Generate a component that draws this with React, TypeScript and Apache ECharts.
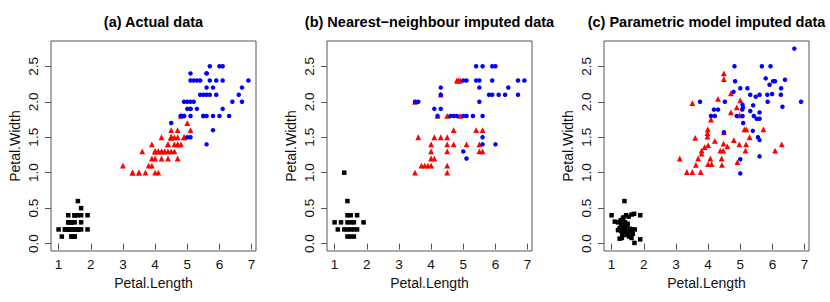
import React, { useEffect, useRef } from "react";
import * as echarts from "echarts";

// ---------- data: [Petal.Length, Petal.Width] ----------
const aSetosa: number[][] = [
  [1.4, 0.2], [1.4, 0.2], [1.3, 0.2], [1.5, 0.2], [1.4, 0.2], [1.7, 0.4], [1.4, 0.3], [1.5, 0.2], [1.4, 0.2], [1.5, 0.1],
  [1.5, 0.2], [1.6, 0.2], [1.4, 0.1], [1.1, 0.1], [1.2, 0.2], [1.5, 0.4], [1.3, 0.4], [1.4, 0.3], [1.7, 0.3], [1.5, 0.3],
  [1.7, 0.2], [1.5, 0.4], [1.0, 0.2], [1.7, 0.5], [1.9, 0.2], [1.6, 0.2], [1.6, 0.4], [1.5, 0.2], [1.4, 0.2], [1.6, 0.2],
  [1.6, 0.2], [1.5, 0.4], [1.5, 0.1], [1.4, 0.2], [1.5, 0.2], [1.2, 0.2], [1.3, 0.2], [1.4, 0.1], [1.3, 0.2], [1.5, 0.2],
  [1.3, 0.3], [1.3, 0.3], [1.3, 0.2], [1.6, 0.6], [1.9, 0.4], [1.4, 0.3], [1.6, 0.2], [1.4, 0.2], [1.5, 0.2], [1.4, 0.2],
];
const aVersicolor: number[][] = [
  [4.7, 1.4], [4.5, 1.5], [4.9, 1.5], [4.0, 1.3], [4.6, 1.5], [4.5, 1.3], [4.7, 1.6], [3.3, 1.0], [4.6, 1.3], [3.9, 1.4],
  [3.5, 1.0], [4.2, 1.5], [4.0, 1.0], [4.7, 1.4], [3.6, 1.3], [4.4, 1.4], [4.5, 1.5], [4.1, 1.0], [4.5, 1.5], [3.9, 1.1],
  [4.8, 1.8], [4.0, 1.3], [4.9, 1.5], [4.7, 1.2], [4.3, 1.3], [4.4, 1.4], [4.8, 1.4], [5.0, 1.7], [4.5, 1.5], [3.5, 1.0],
  [3.8, 1.1], [3.7, 1.0], [3.9, 1.2], [5.1, 1.6], [4.5, 1.5], [4.5, 1.6], [4.7, 1.5], [4.4, 1.3], [4.1, 1.3], [4.0, 1.3],
  [4.4, 1.2], [4.6, 1.4], [4.0, 1.2], [3.3, 1.0], [4.2, 1.3], [4.2, 1.2], [4.2, 1.3], [4.3, 1.3], [3.0, 1.1], [4.1, 1.3],
];
const aVirginica: number[][] = [
  [6.0, 2.5], [5.1, 1.9], [5.9, 2.1], [5.6, 1.8], [5.8, 2.2], [6.6, 2.1], [4.5, 1.7], [6.3, 1.8], [5.8, 1.8], [6.1, 2.5],
  [5.1, 2.0], [5.3, 1.9], [5.5, 2.1], [5.0, 2.0], [5.1, 2.4], [5.3, 2.3], [5.5, 1.8], [6.7, 2.2], [6.9, 2.3], [5.0, 1.5],
  [5.7, 2.3], [4.9, 2.0], [6.7, 2.0], [4.9, 1.8], [5.7, 2.1], [6.0, 1.8], [4.8, 1.8], [4.9, 1.8], [5.6, 2.1], [5.8, 1.6],
  [6.1, 1.9], [6.4, 2.0], [5.6, 2.2], [5.1, 1.5], [5.6, 1.4], [6.1, 2.3], [5.6, 2.4], [5.5, 1.8], [4.8, 1.8], [5.4, 2.1],
  [5.6, 2.4], [5.1, 2.3], [5.1, 1.9], [5.9, 2.3], [5.7, 2.5], [5.2, 2.3], [5.0, 1.9], [5.2, 2.0], [5.4, 2.3], [5.1, 1.8],
];

const bSetosa: number[][] = [
  [1.3, 1.0], [1.4, 0.6], [1.4, 0.4], [1.5, 0.4], [1.7, 0.4], [1.0, 0.3], [1.2, 0.3], [1.4, 0.3], [1.5, 0.3], [1.6, 0.3],
  [1.9, 0.3], [1.1, 0.2], [1.3, 0.2], [1.4, 0.2], [1.5, 0.2], [1.6, 0.2], [1.7, 0.2], [1.4, 0.1], [1.5, 0.1], [1.6, 0.1],
];
const bVersicolor: number[][] = [
  [3.5, 2.0], [4.3, 2.1], [4.8, 2.3], [4.85, 2.3], [4.9, 2.3], [4.2, 1.8], [4.5, 1.8], [4.9, 1.8], [4.7, 1.6], [5.4, 1.6],
  [5.6, 1.6], [3.6, 1.5], [4.1, 1.5], [4.3, 1.5], [4.5, 1.5], [4.0, 1.4], [4.5, 1.4], [4.7, 1.4], [5.1, 1.4], [5.5, 1.4],
  [4.0, 1.3], [4.5, 1.3], [5.5, 1.3], [5.6, 1.3], [4.0, 1.2], [4.1, 1.2], [3.7, 1.1], [3.8, 1.1], [3.9, 1.1], [4.0, 1.1],
  [4.5, 1.1], [3.5, 1.0], [4.5, 1.0],
];
const bVirginica: number[][] = [
  [5.4, 2.5], [5.6, 2.5], [5.9, 2.5], [6.0, 2.5], [5.0, 2.3], [5.1, 2.3], [5.4, 2.3], [5.5, 2.3], [5.9, 2.3], [6.7, 2.3],
  [6.9, 2.3], [4.3, 2.2], [5.5, 2.2], [6.4, 2.2], [4.3, 2.1], [5.8, 2.1], [5.9, 2.1], [6.1, 2.1], [6.3, 2.1], [6.7, 2.1],
  [3.5, 2.0], [3.6, 2.0], [5.5, 2.0], [4.1, 1.9], [4.3, 1.9], [4.2, 1.8], [4.6, 1.8], [4.7, 1.8], [4.8, 1.8], [5.0, 1.8],
  [5.1, 1.8], [5.3, 1.8], [5.6, 1.8], [5.6, 1.5], [5.6, 1.4], [6.0, 1.4], [5.0, 1.3], [5.1, 1.2],
];

const cSetosa: number[][] = [
  [1.40, 0.60], [1.00, 0.40], [1.89, 0.40], [1.70, 0.42], [1.62, 0.41], [1.53, 0.38], [1.45, 0.40], [1.37, 0.37],
  [1.10, 0.31], [1.20, 0.30], [1.28, 0.33], [1.35, 0.35], [1.42, 0.30], [1.50, 0.28], [1.30, 0.27], [1.25, 0.22],
  [1.35, 0.23], [1.43, 0.21], [1.56, 0.21], [1.63, 0.20], [1.72, 0.20], [1.30, 0.18], [1.40, 0.17], [1.50, 0.15],
  [1.33, 0.13], [1.46, 0.12], [1.60, 0.17], [1.55, 0.10], [1.25, 0.07], [1.32, 0.08], [1.62, 0.08], [1.71, 0.01],
  [1.89, 0.06], [1.20, 0.19], [1.38, 0.24], [1.47, 0.26], [1.66, 0.14],
];
const cVersicolor: number[][] = [
  [4.49, 2.40], [4.49, 2.32], [4.71, 2.12], [4.31, 2.04], [5.00, 2.02], [3.51, 1.98], [4.89, 1.92], [4.71, 1.85],
  [4.98, 1.81], [4.09, 1.75], [3.99, 1.61], [3.98, 1.56], [3.98, 1.51], [3.60, 1.49], [4.49, 1.57], [5.13, 1.61],
  [5.19, 1.61], [5.72, 1.61], [5.29, 1.50], [4.80, 1.46], [4.21, 1.45], [4.48, 1.41], [4.60, 1.37], [4.97, 1.40],
  [5.18, 1.40], [6.29, 1.40], [4.00, 1.39], [3.89, 1.36], [3.80, 1.31], [3.80, 1.27], [4.38, 1.31], [4.47, 1.31],
  [5.16, 1.31], [6.08, 1.31], [3.12, 1.20], [3.69, 1.20], [4.07, 1.20], [4.42, 1.20], [4.91, 1.15], [3.62, 1.11],
  [4.00, 1.12], [4.11, 1.12], [4.43, 1.11], [3.34, 1.01], [3.51, 1.01], [3.77, 1.01],
];
const cVirginica: number[][] = [
  [6.68, 2.75], [4.82, 2.50], [5.67, 2.50], [5.94, 2.50], [5.79, 2.33], [4.84, 2.29], [6.02, 2.29], [6.08, 2.29],
  [6.39, 2.31], [5.91, 2.24], [4.79, 2.14], [5.22, 2.19], [5.00, 2.19], [6.27, 2.19], [5.31, 2.10], [5.60, 2.10],
  [5.48, 2.07], [5.84, 2.10], [5.99, 2.11], [6.26, 2.10], [3.75, 2.00], [4.52, 2.00], [5.85, 2.00], [6.89, 2.00],
  [6.31, 1.93], [5.07, 1.96], [5.08, 1.92], [5.06, 1.89], [5.40, 1.95], [5.31, 1.87], [5.60, 1.85], [4.18, 1.89],
  [4.31, 1.89], [4.09, 1.80], [4.21, 1.80], [4.89, 1.80], [5.07, 1.80], [5.09, 1.70], [5.42, 1.80], [5.51, 1.76],
  [5.60, 1.76], [4.49, 1.57], [5.39, 1.59], [5.55, 1.50], [5.60, 1.46], [5.60, 1.23], [5.00, 1.19], [5.00, 0.99],
];

const panelTitles = [
  "(a) Actual data",
  "(b) Nearest\u2212neighbour imputed data",
  "(c) Parametric model imputed data",
];
const xTicks = [1, 2, 3, 4, 5, 6, 7];
const yTicks = [0, 0.5, 1, 1.5, 2, 2.5];
const xLabel = "Petal.Length";
const yLabel = "Petal.Width";

const panels = [
  [aSetosa, aVersicolor, aVirginica],
  [bSetosa, bVersicolor, bVirginica],
  [cSetosa, cVersicolor, cVirginica],
];

const FONT = "Liberation Sans, Arial, Helvetica, sans-serif";

export default function App() {
  const ref = useRef<HTMLDivElement>(null);
  useEffect(() => {
    if (!ref.current) return;
    const chart = echarts.init(ref.current, null, { renderer: "svg" });
    const lefts = [51, 327, 604];
    const W = 205;
    const grid = lefts.map((l) => ({
      left: l,
      top: 41,
      width: W,
      height: 210,
      show: true,
      borderColor: "#555",
      borderWidth: 1,
      backgroundColor: "transparent",
    }));
    const tickStyle = { show: true, inside: false, length: 6, lineStyle: { color: "#555", width: 1 } };
    const xAxis = lefts.map((_, i) => ({
      type: "value",
      gridIndex: i,
      min: 0.764,
      max: 7.136,
      axisLine: { show: false },
      splitLine: { show: false },
      axisTick: { ...tickStyle, customValues: xTicks },
      axisLabel: {
        customValues: xTicks,
        margin: 6,
        fontSize: 13.5,
        color: "#111",
        fontFamily: FONT,
        formatter: (v: number) => String(v),
      },
      name: xLabel,
      nameLocation: "middle",
      nameGap: 25,
      nameTextStyle: { fontSize: 14, color: "#111", fontFamily: FONT },
    }));
    const yAxis = lefts.map((_, i) => ({
      type: "value",
      gridIndex: i,
      min: -0.104,
      max: 2.857,
      axisLine: { show: false },
      splitLine: { show: false },
      axisTick: { ...tickStyle, customValues: yTicks },
      axisLabel: {
        customValues: yTicks,
        rotate: 90,
        margin: 11,
        fontSize: 13.5,
        color: "#111",
        fontFamily: FONT,
        formatter: (v: number) => v.toFixed(1),
      },
      name: yLabel,
      nameLocation: "middle",
      nameGap: 29,
      nameTextStyle: { fontSize: 14, color: "#111", fontFamily: FONT },
    }));
    const title = panelTitles.map((t, i) => ({
      text: t,
      left: lefts[i] + W / 2,
      top: 14,
      padding: 0,
      textAlign: "center",
      textStyle: { fontSize: 14.5, fontWeight: "bold", color: "#000", fontFamily: FONT },
    }));
    const styles = [
      { symbol: "rect", symbolSize: 4.5, color: "#000000" },
      { symbol: "triangle", symbolSize: 5.8, color: "#ff0000" },
      { symbol: "circle", symbolSize: 4.5, color: "#0000ff" },
    ];
    const series: any[] = [];
    panels.forEach((groups, i) => {
      groups.forEach((data, j) => {
        series.push({
          type: "scatter",
          xAxisIndex: i,
          yAxisIndex: i,
          data,
          symbol: styles[j].symbol,
          symbolSize: styles[j].symbolSize,
          itemStyle: { color: styles[j].color, opacity: 1 },
          z: 2 + j,
          silent: true,
        });
      });
    });
    chart.setOption({
      animation: false,
      backgroundColor: "#ffffff",
      title,
      grid,
      xAxis,
      yAxis,
      series,
    });
    return () => chart.dispose();
  }, []);
  return <div ref={ref} style={{ width: 830, height: 302, position: "absolute", left: 0, top: 0 }} />;
}
